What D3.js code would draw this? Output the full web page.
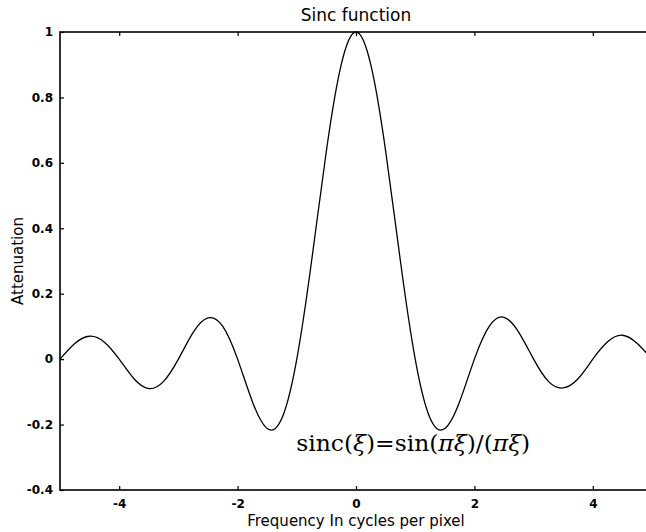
<!DOCTYPE html>
<html>
<head>
<meta charset="utf-8">
<script src="https://cdn.jsdelivr.net/npm/d3@7"></script>
<style>
    body { margin: 0; background: #fff; }
    #chart { width: 646px; height: 532px; }
    text { font-family: 'DejaVu Sans', sans-serif; fill: #000; }
</style>
</head>
<body>
<div id="chart"></div>
<script>
//Datos
const freq = [-5, -4.75, -4.5, -4.25, -4, -3.75, -3.5, -3.25, -3, -2.75, -2.5, -2.25, -2, -1.75, -1.5, -1.25, -1, -0.75, -0.5, -0.25,
    0, 0.25, 0.5, 0.75, 1, 1.25, 1.5, 1.75, 2, 2.25, 2.5, 2.75, 3, 3.25, 3.5, 3.75, 4, 4.25, 4.5, 4.75, 5];
const attenuation = [0, 0.048, 0.07, 0.052, 0, -0.06, -0.09, -0.068, 0, 0.082, 0.126, 0.1, 0, -0.13, -0.212, -0.18, 0, 0.3, 0.637, 0.9,
    1, 0.9, 0.637, 0.3, 0, -0.18, -0.212, -0.13, 0, 0.1, 0.128, 0.082, 0, -0.068, -0.088, -0.06, 0, 0.053, 0.073, 0.048, 0];
const xTicks = [-4, -2, 0, 2, 4];
const yTicks = [-0.4, -0.2, 0, 0.2, 0.4, 0.6, 0.8, 1];

//Elementos genéricos
let margin = {top: 32, right: -6, bottom: 42, left: 60},
    width = 646 - margin.left - margin.right,
    height = 532 - margin.top - margin.bottom;

let svg = d3.select('#chart')
    .append('svg')
        .attr('width', 646)
        .attr('height', 532)
    .append('g')
        .attr('transform', 'translate(' + margin.left + ',' + margin.top + ')');

let x = d3.scaleLinear()
    .domain([-5, 5])
    .range([0, width]);

let y = d3.scaleLinear()
    .domain([-0.4, 1])
    .range([height, 0]);

//Ejes (ticks hacia dentro, estilo matplotlib)
let xAxis = function(g) {
    g.call(d3.axisBottom(x).tickValues(xTicks).tickSizeInner(-4).tickSizeOuter(0).tickPadding(9).tickFormat(function(d) { return String(d); }));
    g.call(function(g){ g.select('.domain').remove(); });
    g.selectAll('.tick text').attr('font-size', '12px').attr('font-weight', 'bold').attr('font-family', 'DejaVu Sans');
}

let xAxisTop = function(g) {
    g.call(d3.axisTop(x).tickValues(xTicks).tickSizeInner(-4).tickSizeOuter(0).tickFormat(''));
    g.call(function(g){ g.select('.domain').remove(); });
}

let yAxis = function(g) {
    g.call(d3.axisLeft(y).tickValues(yTicks).tickSizeInner(-4).tickSizeOuter(0).tickPadding(7).tickFormat(function(d) { return String(d); }));
    g.call(function(g){ g.select('.domain').remove(); });
    g.selectAll('.tick text').attr('font-size', '12px').attr('font-weight', 'bold').attr('font-family', 'DejaVu Sans');
}

svg.append('g')
    .attr('transform', 'translate(0,' + height + ')')
    .call(xAxis);

svg.append('g')
    .call(xAxisTop);

svg.append('g')
    .call(yAxis);

svg.selectAll('.tick line').attr('stroke', '#000').attr('stroke-width', 1.2);

//Curva
let line = d3.line()
    .x(function(d, i) { return x(freq[i]); })
    .y(function(d) { return y(d); })
    .curve(d3.curveNatural);

svg.append('path')
    .datum(attenuation)
    .attr('fill', 'none')
    .attr('stroke', '#000')
    .attr('stroke-width', 1.3)
    .attr('d', line);

//Marco
svg.append('rect')
    .attr('x', 0)
    .attr('y', 0)
    .attr('width', width)
    .attr('height', height)
    .attr('fill', 'none')
    .attr('stroke', '#000')
    .attr('stroke-width', 1.6);

//Textos
svg.append('text')
    .attr('x', x(0))
    .attr('y', -11)
    .attr('text-anchor', 'middle')
    .attr('font-size', '17px')
    .text('Sinc function');

svg.append('text')
    .attr('x', x(0))
    .attr('y', height + 36)
    .attr('text-anchor', 'middle')
    .attr('font-size', '15px')
    .text('Frequency In cycles per pixel');

svg.append('text')
    .attr('transform', 'translate(' + (-37) + ',' + y(0.3) + ') rotate(-90)')
    .attr('text-anchor', 'middle')
    .attr('font-size', '15px')
    .text('Attenuation');

//Fórmula
let formula = svg.append('text')
    .attr('x', x(-1.01))
    .attr('y', y(-0.28))
    .attr('font-family', 'DejaVu Serif')
    .attr('font-size', '22px')
    .attr('textLength', 234)
    .attr('lengthAdjust', 'spacingAndGlyphs');

[['sinc(', false], ['ξ', true], [')=sin(', false], ['πξ', true], [')/(', false], ['πξ', true], [')', false]].forEach(function(p) {
    formula.append('tspan')
        .attr('font-style', p[1] ? 'italic' : 'normal')
        .attr('font-family', 'DejaVu Serif')
        .text(p[0]);
});
</script>
</body>
</html>
